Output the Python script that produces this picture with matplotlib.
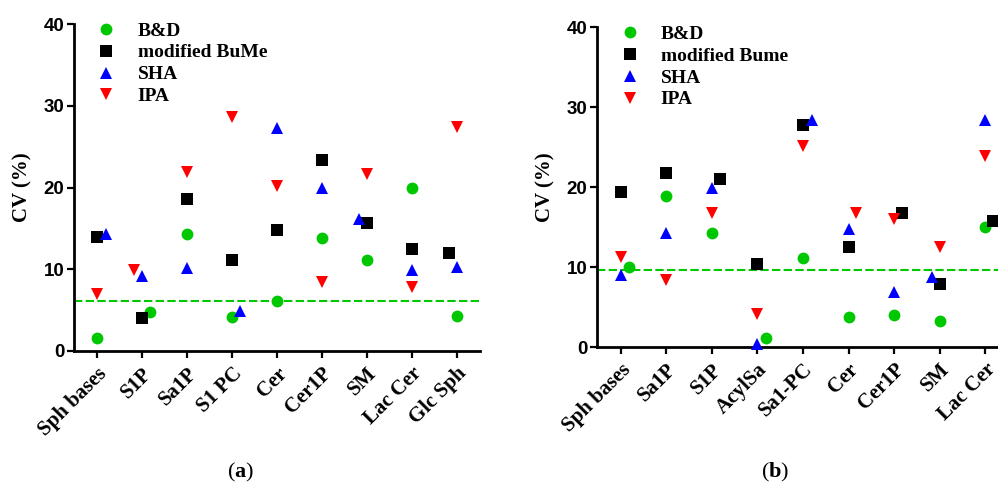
import matplotlib
matplotlib.use("Agg")
import matplotlib.pyplot as plt
from matplotlib.lines import Line2D

# ---- panel (a) ----
cats_a = ["Sph bases", "S1P", "Sa1P", "S1 PC", "Cer", "Cer1P", "SM", "Lac Cer", "Glc Sph"]
bd_a = [1.6, 4.75, 14.3, 4.2, 6.1, 13.8, 11.1, 20.0, 4.3]
bume_a = [13.9, 4.05, 18.6, 11.1, 14.8, 23.4, 15.7, 12.5, 12.0]
sha_a = [14.3, 9.2, 10.1, 4.9, 27.3, 20.0, 16.1, 9.9, 10.3]
ipa_a = [7.0, 9.9, 21.9, 28.6, 20.2, 8.4, 21.6, 7.8, 27.4]
ref_a = 6.1

# ---- panel (b) ----
cats_b = ["Sph bases", "Sa1P", "S1P", "AcylSa", "Sa1-PC", "Cer", "Cer1P", "SM", "Lac Cer"]
bd_b = [10.0, 18.9, 14.3, 1.1, 11.1, 3.8, 4.0, 3.2, 15.0]
bume_b = [19.4, 21.7, 21.0, 10.4, 27.7, 12.5, 16.8, 7.9, 15.75]
sha_b = [9.0, 14.2, 19.9, 0.4, 28.4, 14.7, 6.9, 8.8, 28.4]
ipa_b = [11.2, 8.4, 16.75, 4.1, 25.1, 16.75, 16.0, 12.5, 23.9]
ref_b = 9.6

# small sideways nudges (category units) so overlapping symbols stay visible
nudge_a = {
    "bd": [0, 0.17, 0, 0, 0, 0, 0, 0, 0],
    "bume": [0, 0, 0, 0, 0, 0, 0, 0, -0.18],
    "sha": [0.2, 0, 0, 0.18, 0, 0, -0.18, 0, 0],
    "ipa": [0, -0.18, 0, 0, 0, 0, 0, 0, 0],
}
nudge_b = {
    "bd": [0.18, 0, 0, 0.18, 0, 0, 0, 0, 0],
    "bume": [0, 0, 0.17, 0, 0, 0, 0.18, 0, 0.17],
    "sha": [0, 0, 0, 0, 0.2, 0, 0, -0.17, 0],
    "ipa": [0, 0, 0, 0, 0, 0.17, 0, 0, 0],
}

GREEN = "#00c800"
SERIF = ["Liberation Serif", "DejaVu Serif"]
SANS = ["Liberation Sans", "DejaVu Sans"]

plt.rcParams["mathtext.fontset"] = "custom"
plt.rcParams["mathtext.bf"] = "Liberation Serif:bold"
plt.rcParams["mathtext.rm"] = "Liberation Serif"


def draw_panel(ax, cats, bd, bume, sha, ipa, ref, nudge, names):
    x = list(range(len(cats)))
    styles = [
        ("bd", bd, "o", GREEN, 8.5),
        ("bume", bume, "s", "black", 8),
        ("sha", sha, "^", "blue", 8),
        ("ipa", ipa, "v", "red", 8),
    ]
    ax.axhline(ref, color=GREEN, lw=1.5, ls=(0, (4, 1.6)), zorder=1)
    handles = []
    for (key, vals, mk, col, ms), name in zip(styles, names):
        xs = [xi + d for xi, d in zip(x, nudge[key])]
        ax.plot(xs, vals, ls="none", marker=mk, color=col, ms=ms,
                markeredgewidth=0, zorder=3, clip_on=False)
        handles.append(Line2D([], [], ls="none", marker=mk, color=col,
                              ms=ms, markeredgewidth=0, label=name))
    ax.set_xlim(-0.52, 8.52)
    ax.set_ylim(0, 40)
    ax.set_yticks([0, 10, 20, 30, 40])
    ax.set_xticks(x)
    ax.set_xticklabels(cats, rotation=45, ha="right", va="top",
                       rotation_mode="anchor", fontfamily=SERIF,
                       fontweight="bold", fontsize=15)
    for lab in ax.get_yticklabels():
        lab.set_fontfamily(SANS)
        lab.set_fontweight("bold")
        lab.set_fontsize(13.5)
    ax.tick_params(axis="both", direction="out", length=5, width=1.6, pad=2)
    ax.tick_params(axis="x", pad=4)
    for s in ["top", "right"]:
        ax.spines[s].set_visible(False)
    for s in ["left", "bottom"]:
        ax.spines[s].set_linewidth(2)
    ax.set_ylabel("CV (%)", fontfamily=SERIF, fontweight="bold", fontsize=15, labelpad=8)
    ax.legend(handles=handles, loc="upper left", bbox_to_anchor=(0.037, 1.03),
              frameon=False, handlelength=1, handletextpad=1.1, labelspacing=0.22,
              borderaxespad=0, prop={"family": SERIF, "weight": "bold", "size": 14})


fig = plt.figure(figsize=(9.98, 4.92), dpi=100)
ax1 = fig.add_axes([0.0741, 0.2866, 0.4068, 0.6646])
ax2 = fig.add_axes([0.5982, 0.2947, 0.4128, 0.6504])

draw_panel(ax1, cats_a, bd_a, bume_a, sha_a, ipa_a, ref_a, nudge_a,
           ["B&D", "modified BuMe", "SHA", "IPA"])
draw_panel(ax2, cats_b, bd_b, bume_b, sha_b, ipa_b, ref_b, nudge_b,
           ["B&D", "modified Bume", "SHA", "IPA"])

for xc, letter in [(0.2405, "a"), (0.7766, "b")]:
    fig.text(xc, 1 - 472 / 492, "(" + r"$\mathbf{" + letter + "}$" + ")",
             ha="center", va="center", fontfamily=SERIF, fontsize=16)

fig.savefig("out.png", dpi=100)
